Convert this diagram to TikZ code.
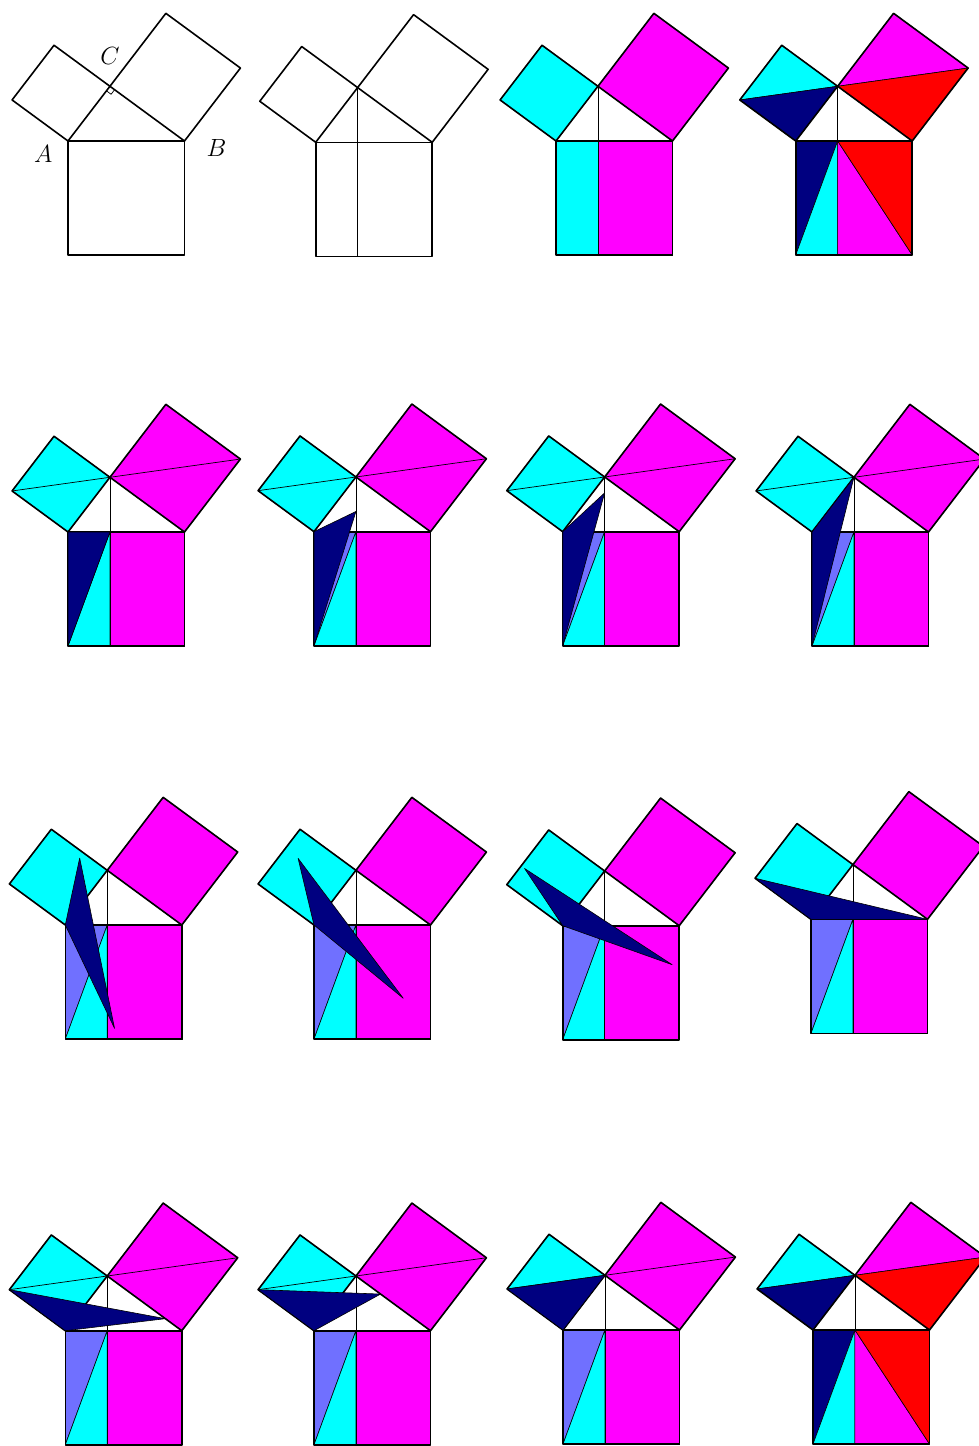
\documentclass[tikz,border=0pt]{standalone}
\usepackage{tikz}
\usetikzlibrary{calc}
\definecolor{navy}{RGB}{0,0,128}
\definecolor{paleblue}{RGB}{112,112,255}
\definecolor{aqua}{RGB}{0,255,255}
\definecolor{fuchsia}{RGB}{255,0,255}
\definecolor{brightred}{RGB}{255,0,0}
\tikzset{
  edge/.style={line width=1.6pt, line join=round},
  thin line/.style={line width=0.7pt},
  piece/.style={fill=#1, draw=black, line width=0.6pt, line join=round},
  vertex label/.style={inner sep=0pt, font=\fontsize{23}{28}\selectfont},
  panel/.style={x=116.5pt, y=-114pt}
}
% corners of one figure, in units of the hypotenuse
\def\corners{
  \coordinate (A) at (0,0); \coordinate (B) at (1,0); \coordinate (C) at (0.36,-0.48);
  \coordinate (D) at (0.36,0); \coordinate (Ab) at (0,1); \coordinate (Db) at (0.36,1);
  \coordinate (Bb) at (1,1); \coordinate (Ap) at (-0.48,-0.36); \coordinate (Cp) at (-0.12,-0.84);
  \coordinate (Cq) at (0.84,-1.12); \coordinate (Bp) at (1.48,-0.64);
}
\def\outline{
  \draw[edge] (A) -- (C) -- (Cp) -- (Ap) -- cycle;
  \draw[edge] (C) -- (Cq) -- (Bp) -- (B) -- cycle;
  \draw[edge] (A) rectangle (Bb);
}
\def\halfway{
  \filldraw[piece=aqua] (A) -- (C) -- (Cp) -- (Ap) -- cycle;
  \filldraw[piece=fuchsia] (C) -- (Cq) -- (Bp) -- (B) -- cycle;
  \filldraw[piece=paleblue] (A) -- (D) -- (Ab) -- cycle;
  \filldraw[piece=aqua] (D) -- (Db) -- (Ab) -- cycle;
  \filldraw[piece=fuchsia] (D) rectangle (Bb);
  \draw[thin line] (C) -- (D);
}
\def\finished{
  \filldraw[piece=aqua] (Ap) -- (Cp) -- (C) -- cycle;
  \filldraw[piece=navy] (Ap) -- (C) -- (A) -- cycle;
  \filldraw[piece=fuchsia] (C) -- (Cq) -- (Bp) -- cycle;
  \filldraw[piece=brightred] (C) -- (Bp) -- (B) -- cycle;
  \filldraw[piece=navy] (A) -- (D) -- (Ab) -- cycle;
  \filldraw[piece=aqua] (D) -- (Db) -- (Ab) -- cycle;
  \filldraw[piece=fuchsia] (D) -- (Db) -- (Bb) -- cycle;
  \filldraw[piece=brightred] (D) -- (B) -- (Bb) -- cycle;
  \draw[thin line] (C) -- (D);
  \outline
}

\begin{document}
\begin{tikzpicture}[x=1pt, y=-1pt]
  \useasboundingbox (0,0) rectangle (979,1446);

  %%%%% ROW 1 %%%%%
  \begin{scope}[shift={(68,141)}, panel]
    \corners
    \outline
    \draw[thin line] (0.33,-0.44) -- (0.37,-0.41) -- (0.40,-0.45);
  \end{scope}
  \node[vertex label] (labA) at (43.3,153.5) {$A$};
  \node[vertex label] (labB) at (216.5,148) {$B$};
  \node[vertex label] (labC) at (110,56) {$C$};

  \begin{scope}[shift={(315.7,142.3)}, panel]
    \corners
    \draw[thin line] (C) -- (Db);
    \outline
  \end{scope}

  \begin{scope}[shift={(556,141)}, panel]
    \corners
    \filldraw[piece=aqua] (A) -- (C) -- (Cp) -- (Ap) -- cycle;
    \filldraw[piece=fuchsia] (C) -- (Cq) -- (Bp) -- (B) -- cycle;
    \filldraw[piece=aqua] (A) rectangle (Db);
    \filldraw[piece=fuchsia] (D) rectangle (Bb);
    \draw[thin line] (C) -- (D);
    \outline
  \end{scope}

  \begin{scope}[shift={(795.7,141)}, panel]
    \corners
    \finished
  \end{scope}

  %%%%% ROW 2: shear towards C %%%%%
  \foreach \ax/\ay/\k in {68/532/0, 314/531.7/0.37, 562.7/531.7/0.71, 812/532/1}{
    \begin{scope}[shift={(\ax,\ay)}, panel]
      \corners
      \halfway
      \draw[thin line] (Ap) -- (C) -- (Bp);
      \outline
      \filldraw[piece=navy] (A) -- (Ab) -- (0.36,{-0.48*\k}) -- cycle;
    \end{scope}
  }

  %%%%% ROW 3: turn about A %%%%%
  \foreach \ax/\ay/\k in {65.3/925/25, 314/925/50, 562.7/925.7/70, 811/919.3/90}{
    \begin{scope}[shift={(\ax,\ay)}, panel]
      \corners
      \halfway
      \outline
      \filldraw[piece=navy] (A) -- ({sin(\k)},{cos(\k)})
        -- ({0.36*cos(\k)-0.48*sin(\k)},{-0.36*sin(\k)-0.48*cos(\k)}) -- cycle;
    \end{scope}
  }

  %%%%% ROW 4: shear along BC %%%%%
  \foreach \ax/\ay/\k in {65.3/1330.7/0.22, 314/1330.7/0.67, 563/1330/1}{
    \begin{scope}[shift={(\ax,\ay)}, panel]
      \corners
      \halfway
      \draw[thin line] (Ap) -- (C) -- (Bp);
      \outline
      \filldraw[piece=navy] (Ap) -- (A) -- ({1-0.64*\k},{-0.48*\k}) -- cycle;
    \end{scope}
  }

  \begin{scope}[shift={(813,1330)}, panel]
    \corners
    \finished
  \end{scope}
\end{tikzpicture}
\end{document}
